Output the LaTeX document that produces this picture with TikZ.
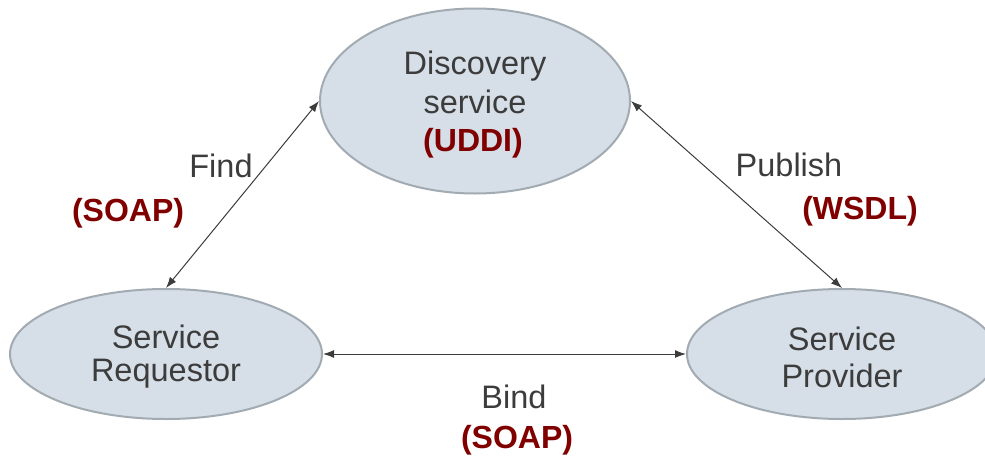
\documentclass[tikz,border=0pt]{standalone}
\usepackage{fontspec}
\setmainfont{Liberation Sans}
\usetikzlibrary{shapes.geometric,arrows.meta}
\definecolor{ellfill}{HTML}{D6DEE7}
\definecolor{elldraw}{HTML}{A2AAB2}
\definecolor{txt}{HTML}{3C3C3C}
\definecolor{proto}{HTML}{800000}
\tikzset{
  ell/.style={ellipse, fill=ellfill, draw=elldraw, line width=2pt, inner sep=0pt},
  conn/.style={draw=txt, line width=1pt, {Latex[length=11pt,width=8pt]}-{Latex[length=11pt,width=8pt]}},
  lbl/.style={text=txt, font=\fontsize{32.5}{38}\selectfont, inner sep=0pt},
  plbl/.style={text=proto, font=\bfseries\fontsize{32}{38}\selectfont, inner sep=0pt}
}
\begin{document}
\begin{tikzpicture}[x=1pt,y=-1pt]
\useasboundingbox (0,0) rectangle (985,463);
\begin{scope}
\clip (0,0) rectangle (985,463);
\node[ell, minimum width=310pt, minimum height=185pt] (disc) at (475,101) {};
\node[ell, minimum width=312pt, minimum height=130pt] (req) at (166,354) {};
\node[ell, minimum width=310pt, minimum height=130pt] (prov) at (842,354) {};
\end{scope}
\node[lbl] (t1) at (475,66) {Discovery};
\node[lbl] (t2) at (475,102) {service};
\node[plbl] (t3) at (473,143) {(UDDI)};
\node[lbl] (t4) at (166,337) {Service};
\node[lbl] (t5) at (166,374) {Requestor};
\node[lbl] (t6) at (842,339) {Service};
\node[lbl] (t7) at (842,376) {Provider};
\draw[conn] (disc.west) -- (req.north);
\draw[conn] (disc.east) -- (prov.north);
\draw[conn] (req.east) -- (prov.west);
\node[lbl] (find) at (221,166) {Find};
\node[plbl] (soap1) at (128,213) {(SOAP)};
\node[lbl] (pub) at (789,165) {Publish};
\node[plbl] (wsdl) at (860,211) {(WSDL)};
\node[lbl] (bind) at (514,397) {Bind};
\node[plbl] (soap2) at (517,440) {(SOAP)};
\end{tikzpicture}
\end{document}
